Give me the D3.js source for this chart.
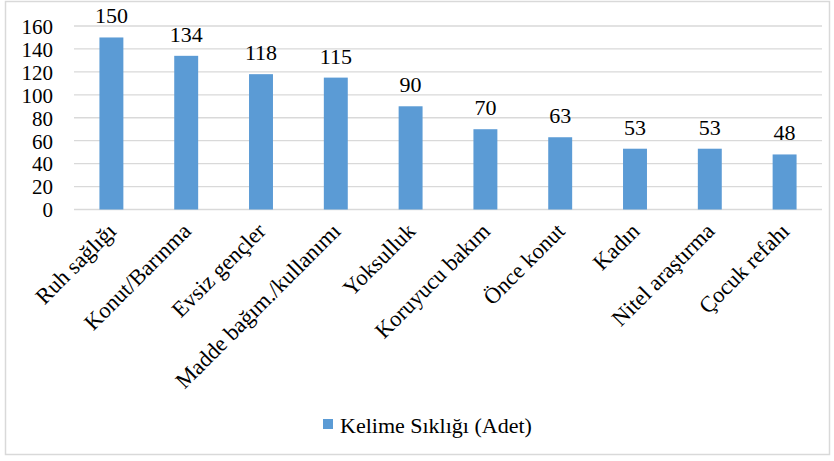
<!DOCTYPE html>
<html><head><meta charset="utf-8">
<script src="https://cdn.jsdelivr.net/npm/d3@7"></script>
<style>body{margin:0;background:#fff}svg{display:block}
svg text{font-family:"Liberation Serif","Times New Roman",Times,"DejaVu Serif",serif !important;}</style>
</head><body>
<script>
const categories = ["Ruh sağlığı","Konut/Barınma","Evsiz gençler","Madde bağım./kullanımı","Yoksulluk","Koruyucu bakım","Önce konut","Kadın","Nitel araştırma","Çocuk refahı"];
const values = [150,134,118,115,90,70,63,53,53,48];
const yTicks = [0,20,40,60,80,100,120,140,160];
const seriesName = "Kelime Sıklığı (Adet)";

const W=834,H=461;
const svg=d3.select("body").append("svg").attr("width",W).attr("height",H);
svg.append("rect").attr("x",5.5).attr("y",1.5).attr("width",824).attr("height",453)
  .attr("fill","#fff").attr("stroke","#d9d9d9").attr("stroke-width",1.5);

const x=d3.scaleBand().domain(categories).range([74,822]).paddingInner(0.68).paddingOuter(0.34);
const y=d3.scaleLinear().domain([0,160]).range([209.5,26]);

const g=svg.append("g");
g.selectAll("line.grid").data(yTicks).join("line").attr("class","grid")
  .attr("x1",74).attr("x2",822).attr("y1",d=>y(d)).attr("y2",d=>y(d))
  .attr("stroke","#d9d9d9").attr("stroke-width",1.3);

const yAxis=svg.append("g").attr("transform","translate(59,0)")
  .call(d3.axisLeft(y).tickValues(yTicks).tickSize(0).tickPadding(6));
yAxis.select(".domain").remove();
yAxis.selectAll("text").attr("font-size",21).attr("fill","#000").attr("dy","0.35em");

g.selectAll("rect.bar").data(values).join("rect").attr("class","bar")
  .attr("x",(d,i)=>x(categories[i])).attr("width",x.bandwidth())
  .attr("y",d=>y(d)).attr("height",d=>y(0)-y(d)).attr("fill","#5b9bd5");

g.selectAll("text.lbl").data(values).join("text").attr("class","lbl")
  .attr("x",(d,i)=>x(categories[i])+x.bandwidth()/2).attr("y",d=>y(d)-14)
  .attr("text-anchor","middle").attr("font-size",22).attr("fill","#000").text(d=>d);

const xAxis=svg.append("g").attr("transform",`translate(0,${y(0)})`)
  .call(d3.axisBottom(x).tickSize(0).tickPadding(0));
xAxis.select(".domain").remove();
xAxis.selectAll("text").attr("font-size",22.5).attr("fill","#000")
  .attr("text-anchor","end").attr("dy",null).attr("y",0)
  .attr("transform","translate(6,23) rotate(-45)");

const lg=svg.append("g");
lg.append("rect").attr("x",323).attr("y",419).attr("width",10).attr("height",10).attr("fill","#5b9bd5");
lg.append("text").attr("x",340).attr("y",433).attr("font-size",22).attr("fill","#000").text(seriesName);
</script>
</body></html>
